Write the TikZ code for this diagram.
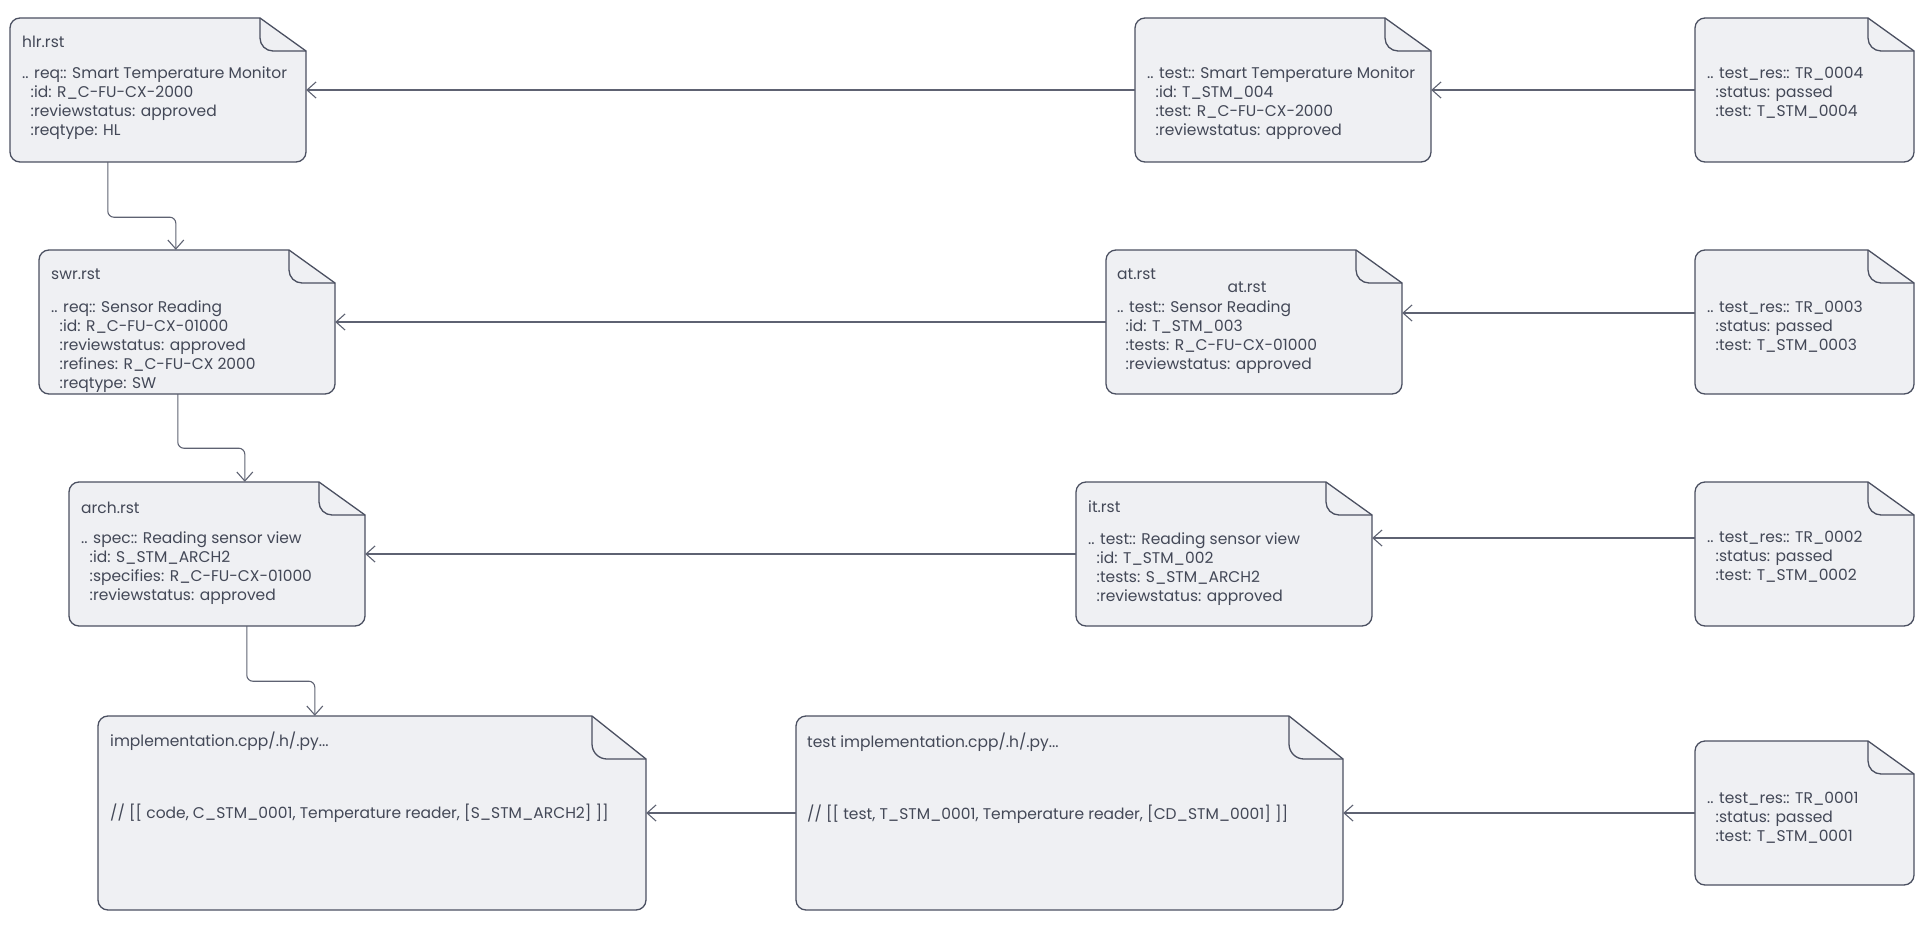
\documentclass[tikz,border=0pt]{standalone}
\usepackage{fontspec}
\setmainfont{Poppins}
\usetikzlibrary{arrows.meta,fit}
\definecolor{docfill}{HTML}{EFF0F3}
\definecolor{docline}{HTML}{4B5061}
\definecolor{conncol}{HTML}{5E6272}
\definecolor{txtcol}{HTML}{434857}
\tikzset{
  docshape/.style={fill=docfill,draw=docline,line width=1.3pt},
  foldline/.style={draw=docline,line width=1.3pt},
  conn/.style={draw=conncol,line width=1.1pt,rounded corners=6pt,
    -{Straight Barb[length=9pt,width=16pt,line width=1.1pt]}},
  txt/.style={inner sep=0pt,anchor=base west,text=txtcol,font=\fontsize{15.5}{19}\selectfont},
  boxnode/.style={inner sep=0pt,draw=none}
}
% name, L, T, R, B, fold w, fold h, fold radius
\newcommand\docbox[8]{%
  \filldraw[docshape] (#2+10,-#3) -- (#4-#6,-#3) -- (#4,-#3-#7) -- (#4,-#5+10)
    arc[start angle=0,end angle=-90,radius=10pt] -- (#2+10,-#5)
    arc[start angle=270,end angle=180,radius=10pt] -- (#2,-#3-10)
    arc[start angle=180,end angle=90,radius=10pt] -- cycle;
  \draw[foldline] (#4-#6,-#3) -- (#4-#6,-#3-#7+#8)
    arc[start angle=180,end angle=270,radius=#8pt] -- (#4,-#3-#7);
  \node[boxnode,fit={(#2,-#3) (#4,-#5)}] (#1) {};
}
\newcommand\IN{\kern8.5pt}
\newcommand\Lines[1]{\vtop{\baselineskip=19pt\lineskiplimit=-20pt #1}}
\begin{document}
\begin{tikzpicture}[x=1pt,y=1pt]
\useasboundingbox (0,0) rectangle (1920,-931);
% row 1
\docbox{hlr}{10}{18}{306}{162}{46}{33}{13}
\docbox{tst4}{1135}{18}{1431}{162}{46}{33}{13}
\docbox{tr4}{1695}{18}{1914}{162}{46}{33}{13}
% row 2
\docbox{swr}{39}{250}{335}{394}{46}{33}{13}
\docbox{at}{1106}{250}{1402}{394}{46}{33}{13}
\docbox{tr3}{1695}{250}{1914}{394}{46}{33}{13}
% row 3
\docbox{arch}{69}{482}{365}{626}{46}{33}{13}
\docbox{it}{1076}{482}{1372}{626}{46}{33}{13}
\docbox{tr2}{1695}{482}{1914}{626}{46}{33}{13}
% row 4
\docbox{impl}{98}{716}{646}{910}{54}{43}{15}
\docbox{timpl}{796}{716}{1343}{910}{54}{43}{15}
\docbox{tr1}{1695}{741}{1914}{885}{46}{33}{13}

% texts row 1
\node[txt] (hlrT) at (22,-48) {hlr.rst};
\node[txt] (hlrB) at (22,-79) {\Lines{\hbox{.. req:: Smart Temperature Monitor}\hbox{\IN:id: R\_C-FU-CX-2000}\hbox{\IN:reviewstatus: approved}\hbox{\IN:reqtype: HL}}};
\node[txt] (tst4B) at (1147,-79) {\Lines{\hbox{.. test:: Smart Temperature Monitor}\hbox{\IN:id: T\_STM\_004}\hbox{\IN:test: R\_C-FU-CX-2000}\hbox{\IN:reviewstatus: approved}}};
\node[txt] (tr4B) at (1707,-79) {\Lines{\hbox{.. test\_res:: TR\_0004}\hbox{\IN:status: passed}\hbox{\IN:test: T\_STM\_0004}}};
% row 2
\node[txt] (swrT) at (51,-279) {swr.rst};
\node[txt] (swrB) at (51,-312) {\Lines{\hbox{.. req:: Sensor Reading}\hbox{\IN:id: R\_C-FU-CX-01000}\hbox{\IN:reviewstatus: approved}\hbox{\IN:refines: R\_C-FU-CX 2000}\hbox{\IN:reqtype: SW}}};
\node[txt] (atT) at (1117,-279) {at.rst};
\node[txt,anchor=base] (atT2) at (1247,-292) {at.rst};
\node[txt] (atB) at (1117,-312) {\Lines{\hbox{.. test:: Sensor Reading}\hbox{\IN:id: T\_STM\_003}\hbox{\IN:tests: R\_C-FU-CX-01000}\hbox{\IN:reviewstatus: approved}}};
\node[txt] (tr3B) at (1707,-312) {\Lines{\hbox{.. test\_res:: TR\_0003}\hbox{\IN:status: passed}\hbox{\IN:test: T\_STM\_0003}}};
% row 3
\node[txt] (archT) at (81,-513) {arch.rst};
\node[txt] (archB) at (81,-543) {\Lines{\hbox{.. spec:: Reading sensor view}\hbox{\IN:id: S\_STM\_ARCH2}\hbox{\IN:specifies: R\_C-FU-CX-01000}\hbox{\IN:reviewstatus: approved}}};
\node[txt] (itT) at (1088,-512) {it.rst};
\node[txt] (itB) at (1088,-544) {\Lines{\hbox{.. test:: Reading sensor view}\hbox{\IN:id: T\_STM\_002}\hbox{\IN:tests: S\_STM\_ARCH2}\hbox{\IN:reviewstatus: approved}}};
\node[txt] (tr2B) at (1707,-542) {\Lines{\hbox{.. test\_res:: TR\_0002}\hbox{\IN:status: passed}\hbox{\IN:test: T\_STM\_0002}}};
% row 4
\node[txt] (implT) at (110,-746) {implementation.cpp/.h/.py...};
\node[txt] (implB) at (110,-818) {// [[ code, C\_STM\_0001, Temperature reader, [S\_STM\_ARCH2] ]]};
\node[txt] (timplT) at (807,-747) {test implementation.cpp/.h/.py...};
\node[txt] (timplB) at (807,-819) {// [[ test, T\_STM\_0001, Temperature reader, [CD\_STM\_0001] ]]};
\node[txt] (tr1B) at (1707,-803) {\Lines{\hbox{.. test\_res:: TR\_0001}\hbox{\IN:status: passed}\hbox{\IN:test: T\_STM\_0001}}};

% vertical connectors
\draw[conn] ([xshift=98pt]hlr.south west) -- ++(0,-55) -| ([xshift=137pt]swr.north west);
\draw[conn] ([xshift=139pt]swr.south west) -- ++(0,-54) -| ([xshift=176pt]arch.north west);
\draw[conn] ([xshift=178pt]arch.south west) -- ++(0,-55) -| ([xshift=217pt]impl.north west);
% horizontal connectors
\draw[conn] (tst4.west) -- (hlr.east);
\draw[conn] (tr4.west) -- (tst4.east);
\draw[conn] (at.west) -- (swr.east);
\draw[conn] ([yshift=9pt]tr3.west) -- ([yshift=9pt]at.east);
\draw[conn] (it.west) -- (arch.east);
\draw[conn] ([yshift=16pt]tr2.west) -- ([yshift=16pt]it.east);
\draw[conn] (timpl.west) -- (impl.east);
\draw[conn] (tr1.west) -- (timpl.east);
\end{tikzpicture}
\end{document}
